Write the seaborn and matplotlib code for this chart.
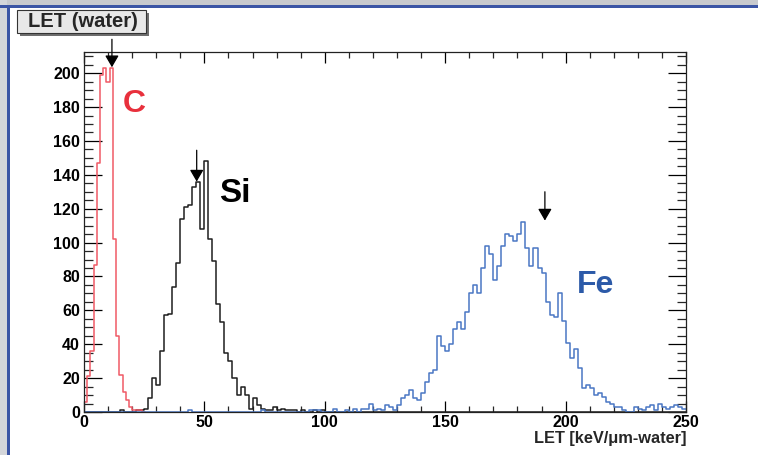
import numpy as np
import pandas as pd
import matplotlib
matplotlib.use("Agg")
import matplotlib.pyplot as plt
import seaborn as sns
from matplotlib.patches import Rectangle
from matplotlib.ticker import MultipleLocator

# ---------------- data ----------------
c_bin_width = 4.0 / 3.0
c_first_bin = 0
c_counts = [6, 21, 36, 87, 147, 199, 203, 195, 203, 102, 45, 22, 12, 7, 3, 1, 1, 1, 0]

sife_bin_width = 5.0 / 3.0
sife_n_bins = 150

si_first_bin = 9
si_counts = [1, 0, 0, 0, 1, 1, 2, 8, 20, 16, 36, 57, 58, 74, 88, 114, 121, 122, 133,
             136, 108, 148, 102, 89, 64, 53, 35, 30, 20, 10, 15, 10, 2, 8, 4, 2, 1, 1,
             3, 1, 2, 1, 1, 1, 0, 1, 0, 0, 1, 0, 1]

fe_first_bin = 26
fe_counts = [1] + [0] * 17 + [1] + [0] * 11 + [1, 1, 1, 0, 0, 0, 2, 0, 0, 1, 0, 2, 0, 2,
             2, 5, 1, 2, 1, 4, 3, 1, 4, 8, 10, 13, 8, 7, 11, 18, 23, 25, 45, 39, 36,
             40, 49, 53, 49, 59, 70, 75, 70, 85, 98, 93, 78, 86, 98, 105, 104, 101,
             105, 112, 97, 86, 97, 85, 82, 65, 57, 56, 70, 54, 41, 32, 37, 26, 14, 16,
             14, 10, 11, 9, 6, 5, 3, 3, 1, 0, 0, 3, 2, 1, 3, 4, 1, 5, 3, 2, 3, 4, 3, 2]

ion_labels = ["C", "Si", "Fe"]
expected_let = [11.6, 46.8, 191.4]
arrow_top = [220.0, 154.5, 130.0]
arrow_tip = [203.5, 136.0, 113.0]
label_pos_x = [16.2, 56.3, 204.5]
label_pos_y = [177.0, 124.0, 70.0]

x_ticks = [0, 50, 100, 150, 200, 250]
y_ticks = [0, 20, 40, 60, 80, 100, 120, 140, 160, 180, 200]
x_max = 250
y_max = 212.5

title_text = "LET (water)"
x_label = "LET [keV/\u03bcm-water]"

line_colors = ["#f05a66", "#1e1e1e", "#4a77c4"]
label_colors = ["#e8303c", "#000000", "#2c5aa8"]
label_sizes = [23, 24, 23]

# ---------------- styling ----------------
sns.set_style("ticks")
plt.rcParams["font.family"] = ["Liberation Sans", "DejaVu Sans"]
plt.rcParams["font.weight"] = "bold"

W, H = 758, 455
fig = plt.figure(figsize=(W / 100, H / 100), dpi=100, facecolor="white")


def fx(px):
    return px / W


def fy(py):
    return 1 - py / H


# frame decoration (gray strips + blue border)
fig.patches.append(Rectangle((0, fy(5)), 1, 5 / H, transform=fig.transFigure,
                             facecolor="#c8cace", edgecolor="none", zorder=0))
fig.patches.append(Rectangle((0, 0), fx(7), 1, transform=fig.transFigure,
                             facecolor="#d4d6da", edgecolor="none", zorder=0))
fig.patches.append(Rectangle((0, fy(7.5)), 1, 2.5 / H, transform=fig.transFigure,
                             facecolor="#3b55a5", edgecolor="none", zorder=1))
fig.patches.append(Rectangle((fx(7), 0), 3 / W, fy(5), transform=fig.transFigure,
                             facecolor="#3b55a5", edgecolor="none", zorder=1))

ax = fig.add_axes([fx(84), fy(412), fx(686) - fx(84), (412 - 52) / H])
ax.set_facecolor("white")


def make_frame(first, counts, width):
    idx = np.arange(first, first + len(counts))
    return pd.DataFrame({"x": (idx + 0.5) * width, "w": counts})


df_c = make_frame(c_first_bin, c_counts, c_bin_width)
df_si = make_frame(si_first_bin, si_counts, sife_bin_width)
df_fe = make_frame(fe_first_bin, fe_counts, sife_bin_width)

sns.histplot(data=df_si, x="x", weights="w", bins=sife_n_bins, binrange=(0, x_max),
             element="step", fill=False, color=line_colors[1], linewidth=1.1, ax=ax)
sns.histplot(data=df_c, x="x", weights="w", bins=len(c_counts),
             binrange=(0, len(c_counts) * c_bin_width),
             element="step", fill=False, color=line_colors[0], linewidth=1.1, ax=ax)
sns.histplot(data=df_fe, x="x", weights="w", bins=sife_n_bins, binrange=(0, x_max),
             element="step", fill=False, color=line_colors[2], linewidth=1.1, ax=ax)

ax.set_xlim(0, x_max)
ax.set_ylim(0, y_max)
ax.set_xlabel("")
ax.set_ylabel("")

ax.set_xticks(x_ticks)
ax.set_yticks(y_ticks)
ax.xaxis.set_minor_locator(MultipleLocator(10))
ax.yaxis.set_minor_locator(MultipleLocator(5))
ax.tick_params(axis="x", which="major", direction="in", length=8, width=0.9,
               top=True, bottom=True, labelsize=11.5, pad=2, colors="black")
ax.tick_params(axis="x", which="minor", direction="in", length=4, width=0.9,
               top=True, bottom=True)
ax.tick_params(axis="y", which="major", direction="in", length=13, width=0.9,
               left=True, right=True, labelsize=11.5, pad=3, colors="black")
ax.tick_params(axis="y", which="minor", direction="in", length=6.5, width=0.9,
               left=True, right=True)
for lab in ax.get_xticklabels() + ax.get_yticklabels():
    lab.set_fontweight("bold")
for sp in ax.spines.values():
    sp.set_visible(True)
    sp.set_linewidth(0.9)
    sp.set_color("#222222")

# ion labels and expected-LET arrows
for name, xl, yl, col, fs in zip(ion_labels, label_pos_x, label_pos_y, label_colors,
                                 label_sizes):
    ax.text(xl, yl, name, color=col, fontsize=fs, fontweight="bold",
            ha="left", va="baseline")
for xe, yt, yb in zip(expected_let, arrow_top, arrow_tip):
    ax.annotate("", xy=(xe, yb), xytext=(xe, yt), annotation_clip=False,
                arrowprops=dict(arrowstyle="-|>,head_width=0.32,head_length=0.55",
                                color="black", lw=0.9, shrinkA=0, shrinkB=0,
                                mutation_scale=13))

# x-axis title
fig.text(fx(686), fy(438), x_label, ha="right", va="center", fontsize=11.8,
         fontweight="bold")

# title box with shadow
fig.patches.append(Rectangle((fx(20), fy(36)), fx(149) - fx(20), (36 - 13) / H,
                             transform=fig.transFigure, facecolor="#6e6e6e",
                             edgecolor="none", zorder=5))
fig.patches.append(Rectangle((fx(17), fy(33)), fx(146) - fx(17), (33 - 10) / H,
                             transform=fig.transFigure, facecolor="#e8e8e8",
                             edgecolor="#333333", linewidth=0.8, zorder=6))
fig.text(fx(83), fy(21.5), title_text, ha="center", va="center", fontsize=14.5,
         fontweight="bold", zorder=7)

fig.savefig("out.png", dpi=100, facecolor="white")
